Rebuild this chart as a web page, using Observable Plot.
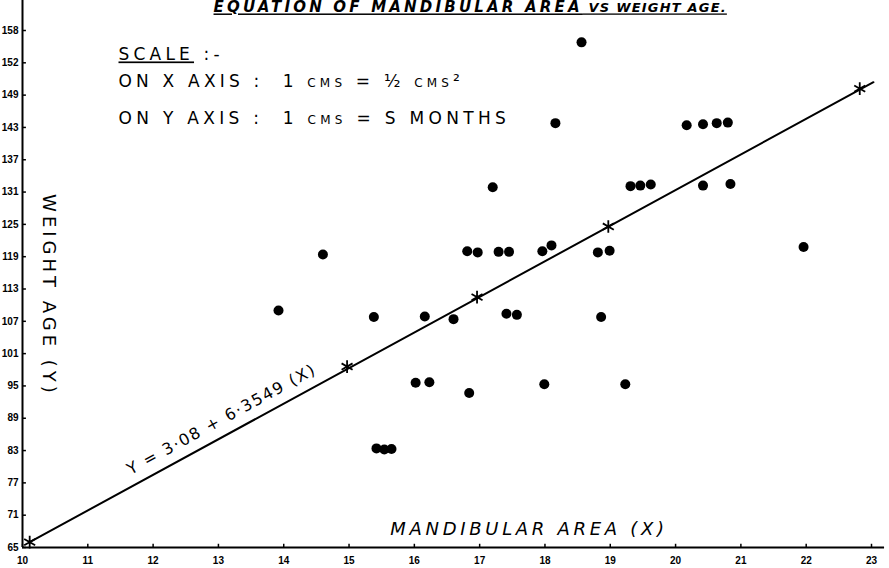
<!DOCTYPE html>
<html><head><meta charset="utf-8">
<script src="https://cdn.jsdelivr.net/npm/d3@7"></script>
<script src="https://cdn.jsdelivr.net/npm/@observablehq/plot@0.6"></script>
<style>
html,body{margin:0;padding:0;background:#fff;}
svg text{white-space:pre;}
</style>
</head><body><div id="chart"></div>
<script>
// Mandibular area (X, sq. cm) of each observation
const mandibularArea = [18.56, 18.16, 20.17, 20.42, 20.63, 20.80,
  17.20, 19.31, 19.46, 19.62, 20.42, 20.84,
  14.60, 16.81, 16.97, 17.29, 17.45, 17.96, 18.10, 18.81, 18.99, 21.96,
  13.92, 15.38, 16.16, 16.60, 17.41, 17.57, 18.86,
  16.02, 16.23, 16.84, 17.99, 19.23,
  15.42, 15.54, 15.65];
// Weight age (Y, months) of each observation
const weightAge = [158.8, 143.8, 143.4, 143.6, 143.8, 143.9,
  131.9, 132.1, 132.2, 132.4, 132.2, 132.5,
  119.4, 120.0, 119.8, 119.9, 119.9, 120.0, 121.1, 119.8, 120.1, 120.8,
  109.0, 107.8, 107.9, 107.4, 108.4, 108.2, 107.8,
  95.6, 95.7, 93.7, 95.3, 95.3,
  83.4, 83.2, 83.3];

// Regression line Y = 3.08 + 6.3549 (X): marked points (stars) and drawn extent
const starX = [10.11, 14.97, 16.96, 18.97, 22.82];
const starY = [66.0, 98.6, 111.5, 124.6, 150.2];
const fitLineX = [10.11, 23.03];
const fitLineY = [66.0, 151.4];

// Axis ticks and the labels written on them
const xTicks = [10, 11, 12, 13, 14, 15, 16, 17, 18, 19, 20, 21, 22, 23];
const xTickLabels = ["10","11","12","13","14","15","16","17","18","19","20","21","22","23"];
const yTicks = [65, 71, 77, 83, 89, 95, 101, 107, 113, 119, 125, 131, 137, 143, 149, 155, 161];
const yTickLabels = ["65","71","77","83","89","95","101","107","113","119","125","131","137","143","149","152","158"];

// Texts
const titleMain = "EQUATION OF MANDIBULAR AREA";
const titleTail = " VS WEIGHT AGE.";
const titleText = titleMain + titleTail;
const xLabel = "MANDIBULAR AREA (X)";
const yLabel = "WEIGHT AGE (Y)";
const equationText = "Y = 3·08 + 6·3549 (X)";
const scaleHead = "SCALE :-";
const scaleX = "ON X AXIS :  1 cms = ½ cms²";
const scaleY = "ON Y AXIS :  1 cms = S MONTHS";

const points = mandibularArea.map((x, i) => ({x, y: weightAge[i]}));
const stars = starX.map((x, i) => ({x, y: starY[i]}));
const fitLine = fitLineX.map((x, i) => ({x, y: fitLineY[i]}));

const font = "'DejaVu Sans', sans-serif";

const chart = Plot.plot({
  width: 889, height: 568,
  marginLeft: 22, marginRight: 18, marginTop: 30, marginBottom: 21,
  style: {background: "#fff", color: "#000", fontFamily: font, overflow: "visible"},
  x: {domain: [10, 23]},
  y: {domain: [65, 161]},
  marks: [
    Plot.axisX({ticks: xTicks, tickSize: 0, tickPadding: 9, label: null,
      tickFormat: d => xTickLabels[xTicks.indexOf(d)],
      fontSize: 10, fontWeight: "bold", fontFamily: "'Liberation Sans', sans-serif"}),
    Plot.axisY({ticks: yTicks, tickSize: 0, tickPadding: 4, label: null,
      tickFormat: d => yTickLabels[yTicks.indexOf(d)],
      fontSize: 10, fontWeight: "bold", fontFamily: "'Liberation Sans', sans-serif"}),
    Plot.ruleX([10], {y1: 65, y2: 166.6, stroke: "#000", strokeWidth: 2}),
    Plot.ruleY([65], {x1: 10, x2: 23.2, stroke: "#000", strokeWidth: 2}),
    Plot.ruleX(xTicks, {x: d => d, y1: 65, y2: 65.6, stroke: "#000", strokeWidth: 1.5}),
    Plot.ruleY(yTicks, {y: d => d, x1: 10, x2: 10.06, stroke: "#000", strokeWidth: 1.5}),
    Plot.line(fitLine, {x: "x", y: "y", stroke: "#000", strokeWidth: 2}),
    Plot.dot(stars, {x: "x", y: "y", symbol: "asterisk", r: 6, stroke: "#000", strokeWidth: 1.8}),
    Plot.dot(points, {x: "x", y: "y", r: 5, fill: "#000", stroke: "none"}),
    Plot.text([titleText], {text: d => d, x: 12.925, y: 164.35, textAnchor: "start", lineAnchor: "bottom",
      fontSize: 15, fontStyle: "italic", fontWeight: 600, fill: "#000"}),
    Plot.text([scaleHead], {text: d => d, x: 11.47, y: 155.44, textAnchor: "start", lineAnchor: "bottom",
      fontSize: 17, fill: "#000"}),
    Plot.text([scaleX], {text: d => d, x: 11.47, y: 150.42, textAnchor: "start", lineAnchor: "bottom",
      fontSize: 17, fontVariant: "small-caps", fill: "#000"}),
    Plot.text([scaleY], {text: d => d, x: 11.47, y: 143.55, textAnchor: "start", lineAnchor: "bottom",
      fontSize: 17, fontVariant: "small-caps", fill: "#000"}),
    Plot.text([yLabel], {text: d => d, x: 10.40, y: 111.8, rotate: 90, lineAnchor: "middle",
      fontSize: 18, fill: "#000"}),
    Plot.text([xLabel], {text: d => d, x: 17.755, y: 68.34, lineAnchor: "middle",
      fontSize: 18, fontStyle: "italic", fill: "#000"}),
    Plot.text([equationText], {text: d => d, x: 13.05, y: 88.8, rotate: -28.7, lineAnchor: "middle",
      fontSize: 16, fill: "#000"})
  ]
});

document.getElementById("chart").appendChild(chart);

// Lettering details: spacing, underlines, smaller tail of the title
const spacing = new Map([
  [scaleHead, "4.2px"], [scaleX, "4.2px"], [scaleY, "4.3px"],
  [yLabel, "4px"], [xLabel, "3.7px"], [equationText, "1.7px"]
]);
d3.select(chart).selectAll("text").each(function() {
  const t = this.textContent;
  const s = d3.select(this);
  if (spacing.has(t)) s.style("letter-spacing", spacing.get(t));
  if (t === titleText) {
    s.text(null).style("text-decoration", "underline");
    s.append("tspan").style("letter-spacing", "3.2px").text(titleMain);
    s.append("tspan").style("letter-spacing", "1.2px").style("font-size", "13px")
      .style("font-weight", "bold").text(titleTail);
  }
  if (t === scaleHead) {
    s.text(null);
    s.append("tspan").style("text-decoration", "underline").text("SCALE");
    s.append("tspan").text(" :-");
  }
});
</script>
</body></html>
